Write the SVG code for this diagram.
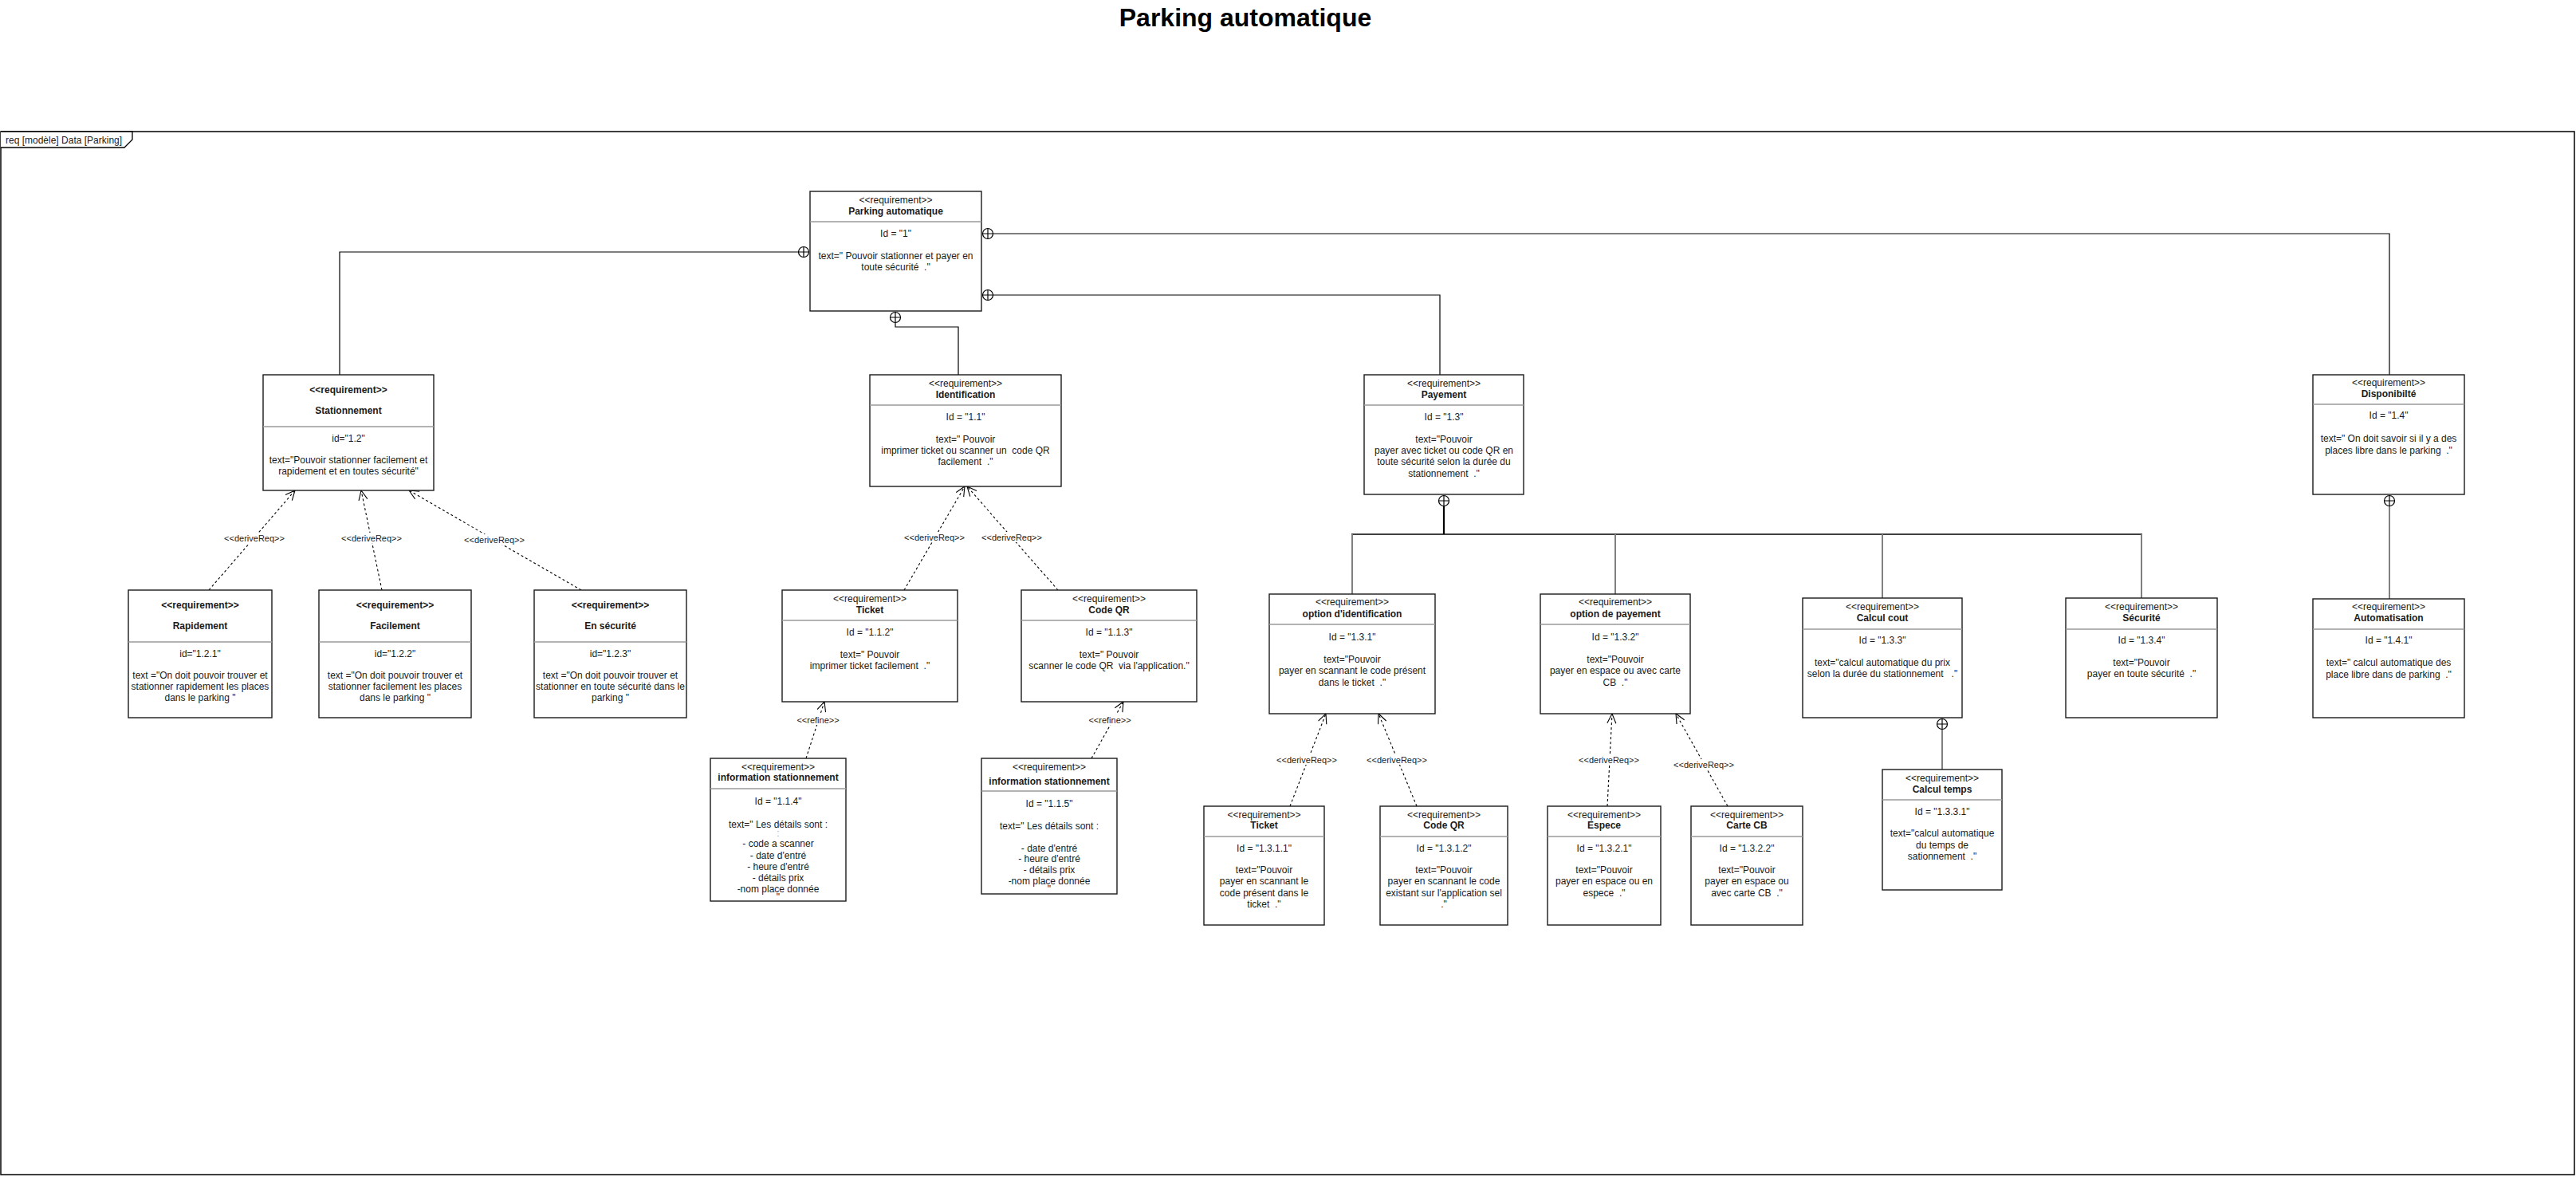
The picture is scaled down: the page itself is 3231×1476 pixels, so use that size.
<svg xmlns="http://www.w3.org/2000/svg" xmlns:xlink="http://www.w3.org/1999/xlink" width="3231" height="1476" viewBox="0 0 3231 1476">
<style>
.box{fill:#fff;stroke:#1a1a1a;stroke-width:1.4}
.dv{stroke:#9a9a9a;stroke-width:1.6}
.t{font-family:"Liberation Sans",Arial,Helvetica,sans-serif;font-size:12px;text-anchor:middle;white-space:pre;fill:#1a1a1a}
.b{font-weight:bold}
.lbl{font-family:"Liberation Sans",Arial,Helvetica,sans-serif;font-size:11px;text-anchor:middle;fill:#1a1a1a}
.lb{fill:#fff}
.ln{fill:none;stroke:#000;stroke-width:1.2}
.gl{fill:none;stroke:#808080;stroke-width:2}
.da{fill:none;stroke:#000;stroke-width:1.1;stroke-dasharray:3 3;marker-end:url(#oa)}
</style>
<defs>
<marker id="oa" markerUnits="userSpaceOnUse" markerWidth="16" markerHeight="14" refX="13" refY="6" orient="auto">
<path d="M1,0.5 L13,6 L1,11.5" fill="none" stroke="#000" stroke-width="1.1" stroke-dasharray="none"/>
</marker>
<g id="cp">
<circle cx="0" cy="0" r="6.5" fill="#fff" stroke="#000" stroke-width="1.2"/>
<path d="M-6.5,0 H6.5 M0,-6.5 V6.5" stroke="#000" stroke-width="1.2"/>
</g>
</defs>
<rect width="3231" height="1476" fill="#fff"/>
<text x="1562" y="33" style="font-family:'Liberation Sans',Arial,Helvetica,sans-serif;font-size:32px;font-weight:bold;text-anchor:middle">Parking automatique</text>
<g id="frame">
<rect x="1" y="165" width="3228" height="1308" fill="none" stroke="#000" stroke-width="1.5"/>
<path d="M1,165 H166 V175 L156,185 H1" fill="#fff" stroke="#000" stroke-width="1.3"/>
<text x="7" y="180" style="font-family:'Liberation Sans',Arial,Helvetica,sans-serif;font-size:12px;fill:#1a1a1a">req [modèle] Data [Parking]</text>
</g>
<g id="connectors">
<polyline class="ln" points="1001,316 426,316 426,470"/>
<polyline class="ln" points="1246,293 2997,293 2997,470"/>
<polyline class="ln" points="1246,370 1806,370 1806,470"/>
<polyline class="ln" points="1123,405 1123,410 1202,410 1202,470"/>
<line x1="1811" y1="635" x2="1811" y2="670" stroke="#000" stroke-width="2.2"/>
<line x1="1695" y1="670" x2="2687" y2="670" stroke="#000" stroke-width="1.6"/>
<line class="gl" x1="1696" y1="670" x2="1696" y2="745"/>
<line class="gl" x1="2026" y1="670" x2="2026" y2="745"/>
<line class="gl" x1="2361" y1="670" x2="2361" y2="750"/>
<line class="gl" x1="2686" y1="670" x2="2686" y2="750"/>
<line class="gl" x1="2436" y1="915" x2="2436" y2="965"/>
<line class="gl" x1="2997" y1="635" x2="2997" y2="751"/>
<use xlink:href="#cp" x="1008" y="316"/>
<use xlink:href="#cp" x="1239" y="293"/>
<use xlink:href="#cp" x="1239" y="370"/>
<use xlink:href="#cp" x="1123" y="398"/>
<use xlink:href="#cp" x="1811" y="628"/>
<use xlink:href="#cp" x="2436" y="908"/>
<use xlink:href="#cp" x="2997" y="628"/>
<path class="da" d="M262,740 L370,615"/>
<path class="da" d="M479,740 L453,615"/>
<path class="da" d="M729,740 L513,615"/>
<path class="da" d="M1134,740 L1210,610"/>
<path class="da" d="M1327,740 L1213,610"/>
<path class="da" d="M1011,951 L1034,880"/>
<path class="da" d="M1369,951 L1409,880"/>
<path class="da" d="M1618,1011 L1663,895"/>
<path class="da" d="M1777,1011 L1729,895"/>
<path class="da" d="M2016,1011 L2022,895"/>
<path class="da" d="M2167,1011 L2102,895"/>
<rect class="lb" x="281" y="668" width="76" height="13"/><text class="lbl" x="319" y="679">&lt;&lt;deriveReq&gt;&gt;</text>
<rect class="lb" x="428" y="668" width="76" height="13"/><text class="lbl" x="466" y="679">&lt;&lt;deriveReq&gt;&gt;</text>
<rect class="lb" x="582" y="670" width="76" height="13"/><text class="lbl" x="620" y="681">&lt;&lt;deriveReq&gt;&gt;</text>
<rect class="lb" x="1134" y="667" width="76" height="13"/><text class="lbl" x="1172" y="678">&lt;&lt;deriveReq&gt;&gt;</text>
<rect class="lb" x="1231" y="667" width="76" height="13"/><text class="lbl" x="1269" y="678">&lt;&lt;deriveReq&gt;&gt;</text>
<rect class="lb" x="999" y="896" width="54" height="13"/><text class="lbl" x="1026" y="907">&lt;&lt;refine&gt;&gt;</text>
<rect class="lb" x="1365" y="896" width="54" height="13"/><text class="lbl" x="1392" y="907">&lt;&lt;refine&gt;&gt;</text>
<rect class="lb" x="1601" y="946" width="76" height="13"/><text class="lbl" x="1639" y="957">&lt;&lt;deriveReq&gt;&gt;</text>
<rect class="lb" x="1714" y="946" width="76" height="13"/><text class="lbl" x="1752" y="957">&lt;&lt;deriveReq&gt;&gt;</text>
<rect class="lb" x="1980" y="946" width="76" height="13"/><text class="lbl" x="2018" y="957">&lt;&lt;deriveReq&gt;&gt;</text>
<rect class="lb" x="2099" y="952" width="76" height="13"/><text class="lbl" x="2137" y="963">&lt;&lt;deriveReq&gt;&gt;</text>
</g>
<g id="n1">
<rect class="box" x="1016" y="240" width="215" height="150"/>
<line class="dv" x1="1016" y1="278" x2="1231" y2="278"/>
<text class="t" x="1123.5" y="255">&lt;&lt;requirement&gt;&gt;</text>
<text class="t b" x="1123.5" y="269">Parking automatique</text>
<text class="t" x="1123.5" y="297">Id = "1"</text>
<text class="t" x="1123.5" y="325">text=" Pouvoir stationner et payer en</text>
<text class="t" x="1123.5" y="339">toute sécurité  ."</text>
</g>
<g id="n2">
<rect class="box" x="330" y="470" width="214" height="145"/>
<line class="dv" x1="330" y1="535" x2="544" y2="535"/>
<text class="t b" x="437" y="493">&lt;&lt;requirement&gt;&gt;</text>
<text class="t b" x="437" y="519">Stationnement</text>
<text class="t" x="437" y="553.5">id="1.2"</text>
<text class="t" x="437" y="581">text="Pouvoir stationner facilement et</text>
<text class="t" x="437" y="595">rapidement et en toutes sécurité"</text>
</g>
<g id="n3">
<rect class="box" x="161" y="740" width="180" height="160"/>
<line class="dv" x1="161" y1="805" x2="341" y2="805"/>
<text class="t b" x="251" y="763">&lt;&lt;requirement&gt;&gt;</text>
<text class="t b" x="251" y="789">Rapidement</text>
<text class="t" x="251" y="823.5">id="1.2.1"</text>
<text class="t" x="251" y="851">text ="On doit pouvoir trouver et</text>
<text class="t" x="251" y="865">stationner rapidement les places</text>
<text class="t" x="251" y="879">dans le parking "</text>
</g>
<g id="n4">
<rect class="box" x="400" y="740" width="191" height="160"/>
<line class="dv" x1="400" y1="805" x2="591" y2="805"/>
<text class="t b" x="495.5" y="763">&lt;&lt;requirement&gt;&gt;</text>
<text class="t b" x="495.5" y="789">Facilement</text>
<text class="t" x="495.5" y="823.5">id="1.2.2"</text>
<text class="t" x="495.5" y="851">text ="On doit pouvoir trouver et</text>
<text class="t" x="495.5" y="865">stationner facilement les places</text>
<text class="t" x="495.5" y="879">dans le parking "</text>
</g>
<g id="n5">
<rect class="box" x="670" y="740" width="191" height="160"/>
<line class="dv" x1="670" y1="805" x2="861" y2="805"/>
<text class="t b" x="765.5" y="763">&lt;&lt;requirement&gt;&gt;</text>
<text class="t b" x="765.5" y="789">En sécurité</text>
<text class="t" x="765.5" y="823.5">id="1.2.3"</text>
<text class="t" x="765.5" y="851">text ="On doit pouvoir trouver et</text>
<text class="t" x="765.5" y="865">stationner en toute sécurité dans le</text>
<text class="t" x="765.5" y="879">parking "</text>
</g>
<g id="n6">
<rect class="box" x="1091" y="470" width="240" height="140"/>
<line class="dv" x1="1091" y1="508" x2="1331" y2="508"/>
<text class="t" x="1211" y="485">&lt;&lt;requirement&gt;&gt;</text>
<text class="t b" x="1211" y="499">Identification</text>
<text class="t" x="1211" y="527">Id = "1.1"</text>
<text class="t" x="1211" y="555">text=" Pouvoir</text>
<text class="t" x="1211" y="569">imprimer ticket ou scanner un  code QR</text>
<text class="t" x="1211" y="583">facilement  ."</text>
</g>
<g id="n7">
<rect class="box" x="981" y="740" width="220" height="140"/>
<line class="dv" x1="981" y1="778" x2="1201" y2="778"/>
<text class="t" x="1091" y="755">&lt;&lt;requirement&gt;&gt;</text>
<text class="t b" x="1091" y="769">Ticket</text>
<text class="t" x="1091" y="797">Id = "1.1.2"</text>
<text class="t" x="1091" y="825">text=" Pouvoir</text>
<text class="t" x="1091" y="839">imprimer ticket facilement  ."</text>
</g>
<g id="n8">
<rect class="box" x="1281" y="740" width="220" height="140"/>
<line class="dv" x1="1281" y1="778" x2="1501" y2="778"/>
<text class="t" x="1391" y="755">&lt;&lt;requirement&gt;&gt;</text>
<text class="t b" x="1391" y="769">Code QR</text>
<text class="t" x="1391" y="797">Id = "1.1.3"</text>
<text class="t" x="1391" y="825">text=" Pouvoir</text>
<text class="t" x="1391" y="839">scanner le code QR  via l'application."</text>
</g>
<g id="n9">
<rect class="box" x="891" y="951" width="170" height="179"/>
<line class="dv" x1="891" y1="989" x2="1061" y2="989"/>
<text class="t" x="976" y="966">&lt;&lt;requirement&gt;&gt;</text>
<text class="t b" x="976" y="979">information stationnement</text>
<text class="t" x="976" y="1009">Id = "1.1.4"</text>
<text class="t" x="976" y="1038">text=" Les détails sont :</text>
<text class="t" x="976" y="1049" style="fill:#aaa">:</text>
<text class="t" x="976" y="1062">- code a scanner</text>
<text class="t" x="976" y="1077">- date d'entré</text>
<text class="t" x="976" y="1091">- heure d'entré</text>
<text class="t" x="976" y="1105">- détails prix</text>
<text class="t" x="976" y="1119">-nom place donnée</text>
<text class="t" x="976" y="1129">"</text>
</g>
<g id="n10">
<rect class="box" x="1231" y="951" width="170" height="170"/>
<line class="dv" x1="1231" y1="992" x2="1401" y2="992"/>
<text class="t" x="1316" y="966">&lt;&lt;requirement&gt;&gt;</text>
<text class="t b" x="1316" y="983.5">information stationnement</text>
<text class="t" x="1316" y="1011.5">Id = "1.1.5"</text>
<text class="t" x="1316" y="1040">text=" Les détails sont :</text>
<text class="t" x="1316" y="1067.5">- date d'entré</text>
<text class="t" x="1316" y="1081">- heure d'entré</text>
<text class="t" x="1316" y="1095">- détails prix</text>
<text class="t" x="1316" y="1109">-nom place donnée</text>
<text class="t" x="1316" y="1119">"</text>
</g>
<g id="n11">
<rect class="box" x="1711" y="470" width="200" height="150"/>
<line class="dv" x1="1711" y1="508" x2="1911" y2="508"/>
<text class="t" x="1811" y="485">&lt;&lt;requirement&gt;&gt;</text>
<text class="t b" x="1811" y="499">Payement</text>
<text class="t" x="1811" y="527">Id = "1.3"</text>
<text class="t" x="1811" y="555">text="Pouvoir</text>
<text class="t" x="1811" y="569">payer avec ticket ou code QR en</text>
<text class="t" x="1811" y="583">toute sécurité selon la durée du</text>
<text class="t" x="1811" y="597.5">stationnement  ."</text>
</g>
<g id="n12">
<rect class="box" x="1592" y="745" width="208" height="150"/>
<line class="dv" x1="1592" y1="783" x2="1800" y2="783"/>
<text class="t" x="1696" y="759">&lt;&lt;requirement&gt;&gt;</text>
<text class="t b" x="1696" y="774">option d'identification</text>
<text class="t" x="1696" y="802.5">Id = "1.3.1"</text>
<text class="t" x="1696" y="831">text="Pouvoir</text>
<text class="t" x="1696" y="845">payer en scannant le code présent</text>
<text class="t" x="1696" y="860">dans le ticket  ."</text>
</g>
<g id="n13">
<rect class="box" x="1932" y="745" width="188" height="150"/>
<line class="dv" x1="1932" y1="783" x2="2120" y2="783"/>
<text class="t" x="2026" y="759">&lt;&lt;requirement&gt;&gt;</text>
<text class="t b" x="2026" y="774">option de payement</text>
<text class="t" x="2026" y="802.5">Id = "1.3.2"</text>
<text class="t" x="2026" y="831">text="Pouvoir</text>
<text class="t" x="2026" y="845">payer en espace ou avec carte</text>
<text class="t" x="2026" y="860">CB  ."</text>
</g>
<g id="n14">
<rect class="box" x="2261" y="750" width="200" height="150"/>
<line class="dv" x1="2261" y1="789" x2="2461" y2="789"/>
<text class="t" x="2361" y="765">&lt;&lt;requirement&gt;&gt;</text>
<text class="t b" x="2361" y="779">Calcul cout</text>
<text class="t" x="2361" y="807">Id = "1.3.3"</text>
<text class="t" x="2361" y="835">text="calcul automatique du prix</text>
<text class="t" x="2361" y="849">selon la durée du stationnement   ."</text>
</g>
<g id="n15">
<rect class="box" x="2591" y="750" width="190" height="150"/>
<line class="dv" x1="2591" y1="789" x2="2781" y2="789"/>
<text class="t" x="2686" y="765">&lt;&lt;requirement&gt;&gt;</text>
<text class="t b" x="2686" y="779">Sécurité</text>
<text class="t" x="2686" y="807">Id = "1.3.4"</text>
<text class="t" x="2686" y="835">text="Pouvoir</text>
<text class="t" x="2686" y="849">payer en toute sécurité  ."</text>
</g>
<g id="n16">
<rect class="box" x="2361" y="965" width="150" height="151"/>
<line class="dv" x1="2361" y1="1003" x2="2511" y2="1003"/>
<text class="t" x="2436" y="980">&lt;&lt;requirement&gt;&gt;</text>
<text class="t b" x="2436" y="993.5">Calcul temps</text>
<text class="t" x="2436" y="1021.5">Id = "1.3.3.1"</text>
<text class="t" x="2436" y="1049">text="calcul automatique</text>
<text class="t" x="2436" y="1063.5">du temps de</text>
<text class="t" x="2436" y="1077.5">sationnement  ."</text>
</g>
<g id="n17">
<rect class="box" x="1510" y="1011" width="151" height="149"/>
<line class="dv" x1="1510" y1="1049" x2="1661" y2="1049"/>
<text class="t" x="1585.5" y="1026">&lt;&lt;requirement&gt;&gt;</text>
<text class="t b" x="1585.5" y="1039">Ticket</text>
<text class="t" x="1585.5" y="1068">Id = "1.3.1.1"</text>
<text class="t" x="1585.5" y="1095">text="Pouvoir</text>
<text class="t" x="1585.5" y="1109">payer en scannant le</text>
<text class="t" x="1585.5" y="1123.5">code présent dans le</text>
<text class="t" x="1585.5" y="1137.5">ticket  ."</text>
</g>
<g id="n18">
<rect class="box" x="1731" y="1011" width="160" height="149"/>
<line class="dv" x1="1731" y1="1049" x2="1891" y2="1049"/>
<text class="t" x="1811" y="1026">&lt;&lt;requirement&gt;&gt;</text>
<text class="t b" x="1811" y="1039">Code QR</text>
<text class="t" x="1811" y="1068">Id = "1.3.1.2"</text>
<text class="t" x="1811" y="1095">text="Pouvoir</text>
<text class="t" x="1811" y="1109">payer en scannant le code</text>
<text class="t" x="1811" y="1123.5">existant sur l'application sel</text>
<text class="t" x="1811" y="1137.5">."</text>
</g>
<g id="n19">
<rect class="box" x="1941" y="1011" width="142" height="149"/>
<line class="dv" x1="1941" y1="1049" x2="2083" y2="1049"/>
<text class="t" x="2012" y="1026">&lt;&lt;requirement&gt;&gt;</text>
<text class="t b" x="2012" y="1039">Espece</text>
<text class="t" x="2012" y="1068">Id = "1.3.2.1"</text>
<text class="t" x="2012" y="1095">text="Pouvoir</text>
<text class="t" x="2012" y="1109">payer en espace ou en</text>
<text class="t" x="2012" y="1123.5">espece  ."</text>
</g>
<g id="n20">
<rect class="box" x="2121" y="1011" width="140" height="149"/>
<line class="dv" x1="2121" y1="1049" x2="2261" y2="1049"/>
<text class="t" x="2191" y="1026">&lt;&lt;requirement&gt;&gt;</text>
<text class="t b" x="2191" y="1039">Carte CB</text>
<text class="t" x="2191" y="1068">Id = "1.3.2.2"</text>
<text class="t" x="2191" y="1095">text="Pouvoir</text>
<text class="t" x="2191" y="1109">payer en espace ou</text>
<text class="t" x="2191" y="1123.5">avec carte CB  ."</text>
</g>
<g id="n21">
<rect class="box" x="2901" y="470" width="190" height="150"/>
<line class="dv" x1="2901" y1="507" x2="3091" y2="507"/>
<text class="t" x="2996" y="484">&lt;&lt;requirement&gt;&gt;</text>
<text class="t b" x="2996" y="498">Disponibilté</text>
<text class="t" x="2996" y="525">Id = "1.4"</text>
<text class="t" x="2996" y="554">text=" On doit savoir si il y a des</text>
<text class="t" x="2996" y="568.5">places libre dans le parking  ."</text>
</g>
<g id="n22">
<rect class="box" x="2901" y="751" width="190" height="149"/>
<line class="dv" x1="2901" y1="789" x2="3091" y2="789"/>
<text class="t" x="2996" y="765">&lt;&lt;requirement&gt;&gt;</text>
<text class="t b" x="2996" y="779">Automatisation</text>
<text class="t" x="2996" y="807">Id = "1.4.1"</text>
<text class="t" x="2996" y="835">text=" calcul automatique des</text>
<text class="t" x="2996" y="850">place libre dans de parking  ."</text>
</g>
</svg>
